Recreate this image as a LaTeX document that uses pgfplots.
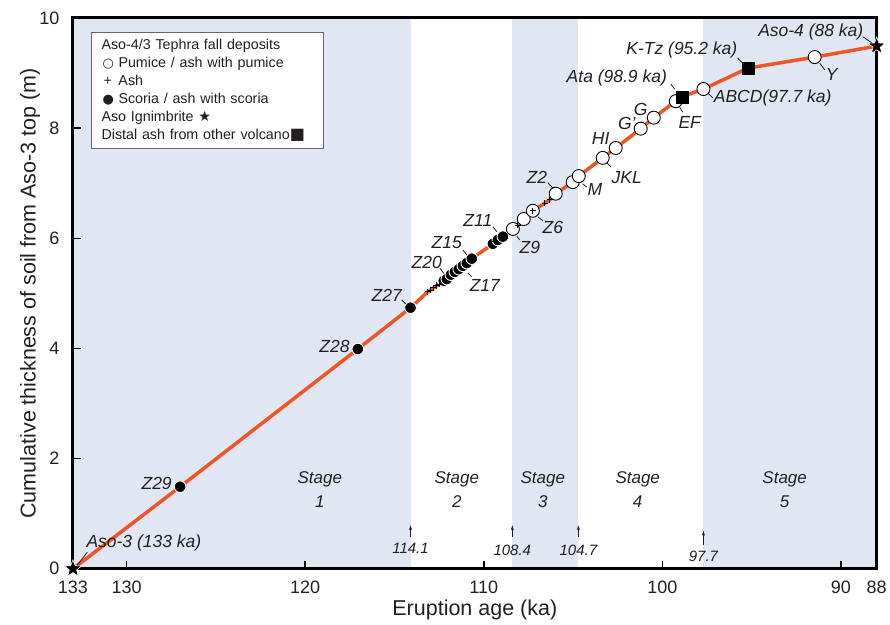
\documentclass[border=0pt]{standalone}
\usepackage{fontspec}
\setmainfont{Liberation Sans}
\newfontfamily\dejavu{DejaVu Sans}
\usepackage{pgfplots}
\pgfplotsset{compat=1.18}
\usetikzlibrary{arrows.meta}

\definecolor{band}{RGB}{225,230,243}
\definecolor{tline}{RGB}{240,85,40}
\definecolor{ink}{RGB}{35,31,32}

% filled five-point star
\pgfdeclareplotmark{fstar}{%
  \pgfpathmoveto{\pgfpointpolar{90}{\pgfplotmarksize}}%
  \pgfpathlineto{\pgfpointpolar{126}{0.42\pgfplotmarksize}}%
  \pgfpathlineto{\pgfpointpolar{162}{\pgfplotmarksize}}%
  \pgfpathlineto{\pgfpointpolar{198}{0.42\pgfplotmarksize}}%
  \pgfpathlineto{\pgfpointpolar{234}{\pgfplotmarksize}}%
  \pgfpathlineto{\pgfpointpolar{270}{0.42\pgfplotmarksize}}%
  \pgfpathlineto{\pgfpointpolar{306}{\pgfplotmarksize}}%
  \pgfpathlineto{\pgfpointpolar{342}{0.42\pgfplotmarksize}}%
  \pgfpathlineto{\pgfpointpolar{18}{\pgfplotmarksize}}%
  \pgfpathlineto{\pgfpointpolar{54}{0.42\pgfplotmarksize}}%
  \pgfpathclose\pgfusepathqfillstroke}

\tikzset{
  lab/.style={font=\fontsize{17.5}{20}\selectfont\itshape, text=ink, inner sep=0pt},
  lead/.style={ink, line width=0.8pt},
  stage/.style={font=\fontsize{17}{24}\selectfont\itshape, text=ink, align=center, inner sep=0pt},
  bnd/.style={font=\fontsize{15}{17}\selectfont\itshape, text=ink, inner sep=0pt},
  barr/.style={ink, line width=0.6pt, -{Stealth[length=5pt,width=3pt]}},
}

\begin{document}
\begin{tikzpicture}
\begin{axis}[
  name=ax, set layers, clip=false,
  scale only axis, width=804pt, height=551pt,
  x dir=reverse, xmin=88, xmax=133, ymin=0, ymax=10,
  xtick={133,130,120,110,100,90,88},
  ytick={0,2,...,10},
  tick pos=left, tick align=inside, major tick length=8pt,
  tick style={line width=1.5pt, black},
  axis line style={line width=3pt, black},
  every tick label/.append style={font=\fontsize{18}{20}\selectfont, text=ink},
  xticklabel style={yshift=-9pt},
  yticklabel style={xshift=-10pt},
  /pgf/number format/assume math mode=true,
  xlabel={Eruption age (ka)},
  ylabel={Cumulative thickness of soil from Aso-3 top (m)},
  xlabel style={at={(axis description cs:0.5,-0.0744)}, anchor=center,
                font=\fontsize{21.5}{24}\selectfont, text=ink},
  ylabel style={at={(axis description cs:-0.0535,0.5)}, anchor=center,
                font=\fontsize{21.5}{24}\selectfont, text=ink},
]

% stage bands
\addplot[on layer=axis background, fill=band, draw=none] coordinates {(133,0)(133,10)(114.1,10)(114.1,0)} -- cycle;
\addplot[on layer=axis background, fill=band, draw=none] coordinates {(108.4,0)(108.4,10)(104.7,10)(104.7,0)} -- cycle;
\addplot[on layer=axis background, fill=band, draw=none] coordinates {(97.7,0)(97.7,10)(88,10)(88,0)} -- cycle;

% cumulative thickness curve
\addplot[tline, line width=3.5pt] coordinates {
  (133,0)(127.0,1.49)(117.05,3.99)(114.1,4.74)(113.13,5.03)(112.96,5.06)
  (112.80,5.10)(112.63,5.14)(112.46,5.17)(112.24,5.23)(112.07,5.26)(111.84,5.34)
  (111.62,5.39)(111.40,5.44)(111.17,5.50)(110.95,5.55)(110.67,5.63)(109.49,5.90)
  (109.21,5.97)(108.93,6.03)(108.37,6.17)(108.09,6.24)(107.76,6.35)(107.25,6.50)
  (106.58,6.64)(106.30,6.70)(105.97,6.81)(105.02,7.02)(104.68,7.13)(103.34,7.46)
  (102.61,7.64)(101.21,7.99)(100.48,8.19)(99.25,8.49)(98.9,8.57)(97.7,8.71)
  (95.2,9.09)(91.47,9.29)(88,9.49)
};

% scoria / ash with scoria
\addplot[only marks, mark=*, mark size=5.8pt, mark options={fill=black, draw=white, line width=0.9pt}] coordinates {
  (127.0,1.49)(117.05,3.99)(114.1,4.74)
  (112.24,5.23)(112.07,5.26)(111.84,5.34)(111.62,5.39)(111.40,5.44)(111.17,5.50)(110.95,5.55)(110.67,5.63)
  (109.49,5.90)(109.21,5.97)(108.93,6.03)
};

% pumice / ash with pumice
\addplot[only marks, mark=*, mark size=6.5pt, mark options={fill=white, draw=black, line width=0.9pt}] coordinates {
  (108.37,6.17)(107.76,6.35)(107.25,6.50)(105.97,6.81)(105.02,7.02)(104.68,7.13)
  (103.34,7.46)(102.61,7.64)(101.21,7.99)(100.48,8.19)(99.25,8.49)(97.7,8.71)(91.47,9.29)
};

% ash
\addplot[only marks, mark=+, mark size=3.2pt, mark options={black, line width=0.9pt}] coordinates {
  (113.13,5.03)(112.96,5.06)(112.80,5.10)(112.63,5.14)(112.46,5.17)
  (109.35,5.94)(108.80,6.06)(108.09,6.24)(107.25,6.50)(106.58,6.64)(106.30,6.70)
};

% distal ash from other volcano
\addplot[only marks, mark=square*, mark size=6pt, mark options={fill=black, draw=black}] coordinates {
  (98.9,8.57)(95.2,9.09)
};

% Aso ignimbrites
\addplot[only marks, mark=fstar, mark size=9pt, mark options={fill=black, draw=white, line width=0.6pt}] coordinates {
  (133,0)(88,9.49)
};

% tephra labels
\draw[lead] (axis cs:132.75,0.07) -- (axis cs:132.2,0.3);
\node[lab] at (axis cs:129.03,0.47) {Aso-3 (133 ka)};
\node[lab, anchor=east] at (axis cs:127.46,1.54) {Z29};
\node[lab, anchor=east] at (axis cs:117.50,4.03) {Z28};
\draw[lead] (axis cs:114.59,4.88) -- (axis cs:114.31,4.79);
\node[lab] at (axis cs:115.43,4.97) {Z27};
\draw[lead] (axis cs:112.46,5.46) -- (axis cs:112.18,5.34);
\node[lab] at (axis cs:113.19,5.57) {Z20};
\draw[lead] (axis cs:111.17,5.79) -- (axis cs:110.95,5.70);
\node[lab] at (axis cs:112.07,5.93) {Z15};
\draw[lead] (axis cs:110.89,5.37) -- (axis cs:110.67,5.30);
\node[lab] at (axis cs:109.94,5.15) {Z17};
\draw[lead] (axis cs:109.49,6.21) -- (axis cs:109.27,6.12);
\node[lab] at (axis cs:110.33,6.33) {Z11};
\draw[lead] (axis cs:108.15,6.04) -- (axis cs:107.98,5.97);
\node[lab] at (axis cs:107.42,5.84) {Z9};
\draw[lead] (axis cs:106.97,6.39) -- (axis cs:106.69,6.32);
\node[lab] at (axis cs:106.13,6.19) {Z6};
\draw[lead] (axis cs:106.41,7.01) -- (axis cs:106.13,6.91);
\node[lab] at (axis cs:107.03,7.10) {Z2};
\draw[lead] (axis cs:104.46,6.99) -- (axis cs:104.23,6.93);
\node[lab] at (axis cs:103.78,6.88) {M};
\draw[lead] (axis cs:103.17,7.39) -- (axis cs:102.89,7.30);
\node[lab] at (axis cs:101.99,7.11) {JKL};
\draw[lead] (axis cs:102.83,7.73) -- (axis cs:102.66,7.68);
\node[lab] at (axis cs:103.45,7.82) {HI};
\node[lab] at (axis cs:101.99,8.09) {G'};
\node[lab] at (axis cs:101.21,8.33) {G};
\draw[lead] (axis cs:99.53,8.80) -- (axis cs:99.31,8.71);
\node[lab] at (axis cs:102.55,8.91) {Ata (98.9 ka)};
\draw[lead] (axis cs:99.03,8.38) -- (axis cs:98.86,8.29);
\node[lab] at (axis cs:98.47,8.11) {EF};
\draw[lead] (axis cs:95.78,9.27) -- (axis cs:95.50,9.18);
\node[lab] at (axis cs:98.91,9.42) {K-Tz (95.2 ka)};
\draw[lead] (axis cs:97.46,8.64) -- (axis cs:97.18,8.55);
\node[lab] at (axis cs:93.82,8.55) {ABCD(97.7 ka)};
\draw[lead] (axis cs:91.19,9.18) -- (axis cs:90.91,9.06);
\node[lab] at (axis cs:90.52,8.97) {Y};
\draw[lead] (axis cs:88.78,9.66) -- (axis cs:88.28,9.55);
\node[lab] at (axis cs:91.69,9.75) {Aso-4 (88 ka)};

% stages
\node[stage] at (axis cs:119.18,1.43) {Stage\\1};
\node[stage] at (axis cs:111.51,1.43) {Stage\\2};
\node[stage] at (axis cs:106.69,1.43) {Stage\\3};
\node[stage] at (axis cs:101.38,1.43) {Stage\\4};
\node[stage] at (axis cs:93.15,1.43) {Stage\\5};

% stage boundaries
\draw[barr] (axis cs:114.1,0.58) -- (axis cs:114.1,0.79);
\node[bnd] at (axis cs:114.1,0.38) {114.1};
\draw[barr] (axis cs:108.4,0.58) -- (axis cs:108.4,0.79);
\node[bnd] at (axis cs:108.4,0.34) {108.4};
\draw[barr] (axis cs:104.7,0.58) -- (axis cs:104.7,0.79);
\node[bnd] at (axis cs:104.7,0.34) {104.7};
\draw[barr] (axis cs:97.7,0.44) -- (axis cs:97.7,0.69);
\node[bnd] at (axis cs:97.7,0.22) {97.7};

% key
\node[draw=black!60, line width=1pt, fill=white, anchor=north west,
      inner xsep=10pt, inner ysep=7pt, text width=212pt, align=left, text=ink,
      font=\fontsize{14.3}{18}\selectfont] at (axis cs:131.99,9.75) {%
  Aso-4/3 Tephra fall deposits\\
  \makebox[17pt][l]{\hspace{1pt}{\dejavu\fontsize{13}{13}\selectfont ○}}Pumice / ash with pumice\\
  \makebox[17pt][l]{\hspace{2pt}+}Ash\\
  \makebox[17pt][l]{\hspace{1pt}{\dejavu\fontsize{13}{13}\selectfont ●}}Scoria / ash with scoria\\
  Aso Ignimbrite {\dejavu ★}\\
  Distal ash from other volcano{\dejavu\fontsize{16}{16}\selectfont ■}};
\end{axis}
\path ([shift={(-73pt,-56pt)}]ax.south west) rectangle ([shift={(13pt,18pt)}]ax.north east);
\end{tikzpicture}
\end{document}
